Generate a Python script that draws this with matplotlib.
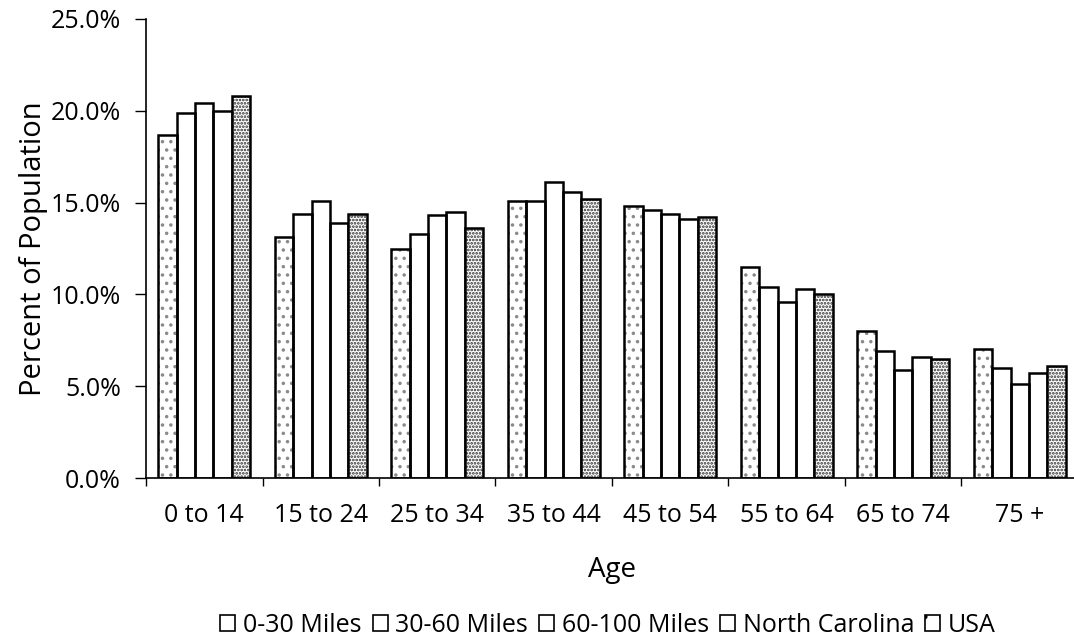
import numpy as np
import matplotlib.pyplot as plt
from matplotlib.patches import Patch

plt.rcParams['font.family'] = ['Open Sans', 'DejaVu Sans']
plt.rcParams['hatch.linewidth'] = 1.3

# Age groups and percent of population per distance band
ages = ['0 to 14', '15 to 24', '25 to 34', '35 to 44', '45 to 54',
        '55 to 64', '65 to 74', '75 +']
miles_0_30 = [18.7, 13.1, 12.5, 15.1, 14.8, 11.5, 8.0, 7.0]
miles_30_60 = [19.9, 14.4, 13.3, 15.1, 14.6, 10.4, 6.9, 6.0]
miles_60_100 = [20.4, 15.1, 14.3, 16.1, 14.4, 9.6, 5.9, 5.1]
north_carolina = [20.0, 13.9, 14.5, 15.6, 14.1, 10.3, 6.6, 5.7]
usa = [20.8, 14.4, 13.6, 15.2, 14.2, 10.0, 6.5, 6.1]

series = [
    ('0-30 Miles', miles_0_30, '..', '#8a8a8a'),
    ('30-60 Miles', miles_30_60, None, None),
    ('60-100 Miles', miles_60_100, None, None),
    ('North Carolina', north_carolina, None, None),
    ('USA', usa, '.....', '#2e2e2e'),
]

fig = plt.figure(figsize=(10.74, 6.38), dpi=100)
ax = fig.add_axes([146 / 1074, (638 - 478) / 638, (1078 - 146) / 1074, (478 - 19) / 638])

x = np.arange(len(ages))
w = 0.158
for i, (name, vals, hatch, hcol) in enumerate(series):
    pos = x + (i - 2) * w
    if hatch:
        ax.bar(pos, vals, w, color='white', hatch=hatch, edgecolor=hcol, linewidth=0)
    ax.bar(pos, vals, w, facecolor='none', edgecolor='black', linewidth=1.8)

ax.set_xlim(-0.5, 7.5)
ax.set_ylim(0, 25)
ax.set_yticks(np.arange(0, 26, 5))
ax.set_yticklabels([f'{v:.1f}%' for v in np.arange(0, 26, 5)])
ax.set_xticks(np.arange(-0.5, 8, 1))
ax.set_xticklabels([])
ax.set_xticks(x, minor=True)
ax.set_xticklabels(ages, minor=True)
ax.tick_params(axis='x', which='major', length=6, width=1, direction='out')
ax.tick_params(axis='x', which='minor', length=0, pad=18, labelsize=18)
ax.tick_params(axis='y', length=8, width=1, labelsize=18, pad=10)
for s in ['top', 'right']:
    ax.spines[s].set_visible(False)
for s in ['left', 'bottom']:
    ax.spines[s].set_linewidth(1.2)

ax.set_xlabel('Age', fontsize=20, labelpad=20)
ax.set_ylabel('Percent of Population', fontsize=21, labelpad=2)

handles = [Patch(facecolor='white', edgecolor='black', linewidth=1.2,
                 hatch=('.' if name == 'USA' else None)) for name, *_ in series]
fig.legend(handles, [s[0] for s in series], loc='center', bbox_to_anchor=(608 / 1074, 1 - 625 / 638),
           ncol=5, frameon=False, fontsize=18, handlelength=0.6, handleheight=0.6,
           handletextpad=0.3, columnspacing=0.45, borderpad=0)

fig.savefig('out.png', dpi=100)
